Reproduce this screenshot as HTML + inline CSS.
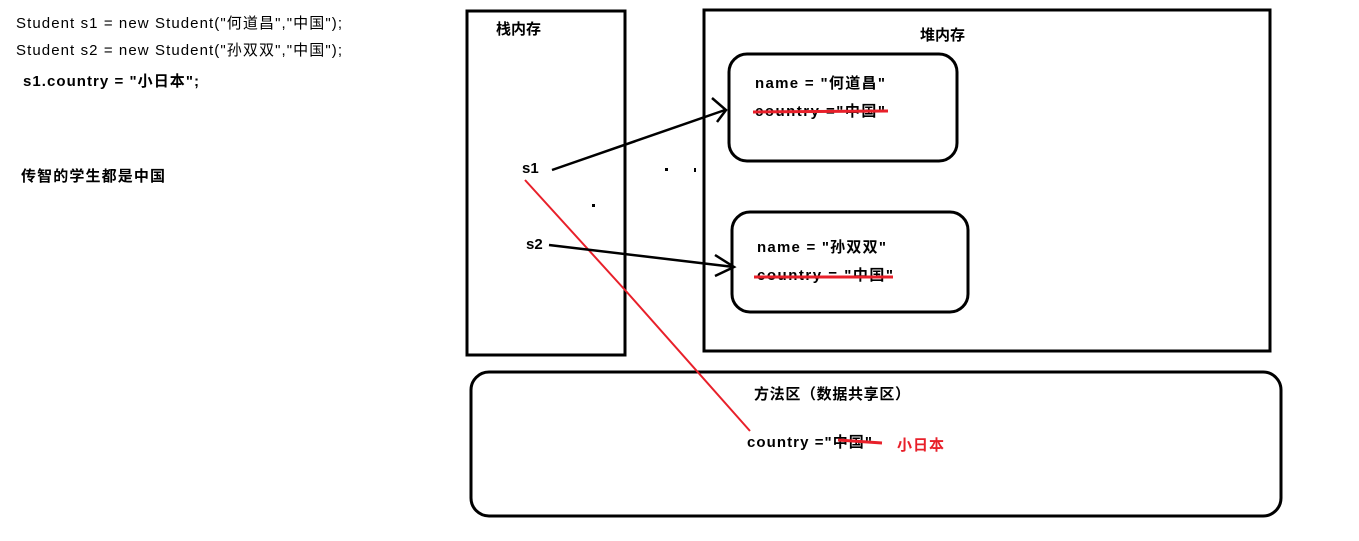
<!DOCTYPE html>
<html><head><meta charset="utf-8"><style>
html,body{margin:0;padding:0;background:#fff;width:1359px;height:541px;overflow:hidden}
svg text{font-family:"Liberation Sans","Noto Sans CJK SC",sans-serif}
</style></head><body>
<svg width="1359" height="541" xmlns="http://www.w3.org/2000/svg">
<g font-size="15" fill="#000">
<text x="16" y="28" textLength="326" lengthAdjust="spacing">Student s1 = new Student("何道昌","中国");</text>
<text x="16" y="55" textLength="326" lengthAdjust="spacing">Student s2 = new Student("孙双双","中国");</text>
<text x="23" y="86" font-weight="bold" textLength="176" lengthAdjust="spacing">s1.country = "小日本";</text>
<text x="21" y="181" font-weight="bold" textLength="144" lengthAdjust="spacing">传智的学生都是中国</text>
</g>
<g fill="none" stroke="#000" stroke-width="3">
<rect x="467" y="11" width="158" height="344"/>
<rect x="704" y="10" width="566" height="341"/>
<rect x="729" y="54" width="228" height="107" rx="18"/>
<rect x="732" y="212" width="236" height="100" rx="18"/>
<rect x="471" y="372" width="810" height="144" rx="18"/>
</g>
<g font-size="15" font-weight="bold" fill="#000">
<text x="496" y="34">栈内存</text>
<text x="920" y="40">堆内存</text>
<text x="522" y="173">s1</text>
<text x="526" y="249">s2</text>
<text x="755" y="88" textLength="130" lengthAdjust="spacing">name = "何道昌"</text>
<text x="755" y="116" textLength="130" lengthAdjust="spacing">country ="中国"</text>
<text x="757" y="252" textLength="129" lengthAdjust="spacing">name = "孙双双"</text>
<text x="757" y="280" textLength="136" lengthAdjust="spacing">country  = "中国"</text>
<text x="754" y="399" textLength="156" lengthAdjust="spacing">方法区（数据共享区）</text>
<text x="747" y="447" textLength="125" lengthAdjust="spacing">country ="中国"</text>
</g>
<text x="897" y="450" font-size="15" font-weight="bold" fill="#e8202a" textLength="47" lengthAdjust="spacing">小日本</text>
<g stroke="#e8202a" stroke-width="3" fill="none">
<line x1="753" y1="112" x2="888" y2="111"/>
<line x1="754" y1="277" x2="893" y2="277"/>
<line x1="838" y1="440" x2="882" y2="443"/>
<polyline stroke-width="2" points="525,180 625,290 750,431"/>
</g>
<g stroke="#000" stroke-width="2.5" fill="none">
<line x1="552" y1="170" x2="725" y2="110"/>
<polyline points="712,98 726,110 717,122"/>
<line x1="549" y1="245" x2="734" y2="267"/>
<polyline points="715,255 734,267 715,276"/>
</g>
<g fill="#000">
<rect x="665" y="168" width="3" height="3"/>
<rect x="694" y="168" width="2" height="4"/>
<rect x="592" y="204" width="3" height="3"/>
</g>
</svg>
</body></html>
